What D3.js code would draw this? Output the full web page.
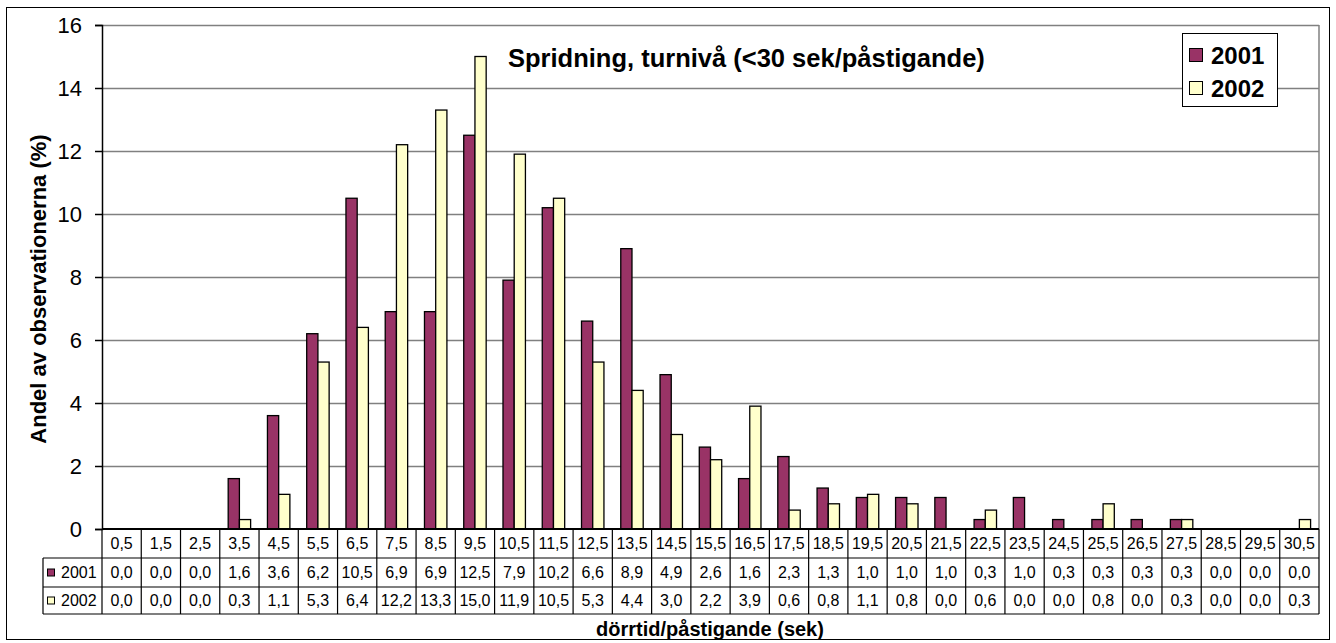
<!DOCTYPE html>
<html>
<head>
<meta charset="utf-8">
<script src="https://cdn.jsdelivr.net/npm/d3@7"></script>
<style>
  body { margin: 0; background: #fff; }
  svg { font-family: Arial, "Liberation Sans", sans-serif; }
</style>
</head>
<body>
<div id="chart"></div>
<script>
// Data
const categories = ["0,5", "1,5", "2,5", "3,5", "4,5", "5,5", "6,5", "7,5", "8,5", "9,5", "10,5", "11,5", "12,5", "13,5", "14,5", "15,5", "16,5", "17,5", "18,5", "19,5", "20,5", "21,5", "22,5", "23,5", "24,5", "25,5", "26,5", "27,5", "28,5", "29,5", "30,5"];
const values2001 = [0.0, 0.0, 0.0, 1.6, 3.6, 6.2, 10.5, 6.9, 6.9, 12.5, 7.9, 10.2, 6.6, 8.9, 4.9, 2.6, 1.6, 2.3, 1.3, 1.0, 1.0, 1.0, 0.3, 1.0, 0.3, 0.3, 0.3, 0.3, 0.0, 0.0, 0.0];
const values2002 = [0.0, 0.0, 0.0, 0.3, 1.1, 5.3, 6.4, 12.2, 13.3, 15.0, 11.9, 10.5, 5.3, 4.4, 3.0, 2.2, 3.9, 0.6, 0.8, 1.1, 0.8, 0.0, 0.6, 0.0, 0.0, 0.8, 0.0, 0.3, 0.0, 0.0, 0.3];
const seriesNames = ["2001", "2002"];
const yTicks = [0, 2, 4, 6, 8, 10, 12, 14, 16];

const colors = { "2001": "#993366", "2002": "#FFFFCC" };
const series = [values2001, values2002];

const W = 1336, H = 643;
const plot = { left: 102, top: 25, right: 1319, bottom: 529 };
const rowH = [29, 29, 27]; // header, 2001, 2002
const legendColLeft = 43;
const tableFont = 16;

const svg = d3.select("#chart").append("svg")
    .attr("width", W)
    .attr("height", H);

// Outer chart border
svg.append("rect")
    .attr("x", 6.5).attr("y", 7.5)
    .attr("width", 1323).attr("height", 632)
    .attr("fill", "#fff")
    .attr("stroke", "#000")
    .attr("stroke-width", 1);

// Scales
const x = d3.scaleBand()
    .domain(categories)
    .range([plot.left, plot.right])
    .paddingInner(0).paddingOuter(0);

const y = d3.scaleLinear()
    .domain([0, 16])
    .range([plot.bottom, plot.top]);

const barW = x.bandwidth() / 3.5;
const xs = d3.scaleBand()
    .domain(seriesNames)
    .range([(x.bandwidth() - 2 * barW) / 2, (x.bandwidth() + 2 * barW) / 2]);

// Grid lines
svg.append("g")
    .attr("class", "grid")
    .attr("transform", `translate(${plot.left},0)`)
    .call(d3.axisLeft(y).tickValues(yTicks.filter(d => d > 0)).tickSize(-(plot.right - plot.left)).tickFormat(""))
    .call(g => g.select(".domain").remove())
    .call(g => g.selectAll("line").attr("stroke", "#808080").attr("stroke-width", 1.5));

// Plot area right border
svg.append("line")
    .attr("x1", plot.right).attr("x2", plot.right)
    .attr("y1", plot.top).attr("y2", plot.bottom)
    .attr("stroke", "#808080").attr("stroke-width", 1.5);

// Y axis
svg.append("g")
    .attr("transform", `translate(${plot.left},0)`)
    .call(d3.axisLeft(y).tickValues(yTicks).tickSize(7).tickPadding(13))
    .call(g => g.select(".domain").attr("stroke", "#000").attr("stroke-width", 1.5))
    .call(g => g.selectAll(".tick line").attr("stroke", "#000").attr("stroke-width", 1.5))
    .call(g => g.selectAll("text").attr("font-size", 22).attr("font-family", "Arial, 'Liberation Sans', sans-serif").attr("fill", "#000"));

// Bars
seriesNames.forEach((name, si) => {
    svg.append("g")
        .selectAll("rect")
        .data(series[si])
        .enter()
        .append("rect")
        .attr("x", (d, i) => x(categories[i]) + xs(name))
        .attr("y", d => y(d))
        .attr("width", xs.bandwidth())
        .attr("height", d => y(0) - y(d))
        .attr("fill", colors[name])
        .attr("stroke", "#000")
        .attr("stroke-width", d => d > 0 ? 1.3 : 0);
});

// Data table
const tTop = plot.bottom;
const rowY = [tTop, tTop + rowH[0], tTop + rowH[0] + rowH[1], tTop + rowH[0] + rowH[1] + rowH[2]];
const table = svg.append("g").attr("class", "table");

// horizontal lines
table.append("line").attr("x1", plot.left).attr("x2", plot.right).attr("y1", rowY[0]).attr("y2", rowY[0]).attr("stroke", "#000").attr("stroke-width", 2);
[1, 2, 3].forEach(r => {
    table.append("line")
        .attr("x1", legendColLeft).attr("x2", plot.right)
        .attr("y1", rowY[r]).attr("y2", rowY[r])
        .attr("stroke", "#000").attr("stroke-width", 1.2);
});
// vertical lines
table.append("line").attr("x1", legendColLeft).attr("x2", legendColLeft).attr("y1", rowY[1]).attr("y2", rowY[3]).attr("stroke", "#000").attr("stroke-width", 1.2);
categories.forEach(c => {
    table.append("line")
        .attr("x1", x(c)).attr("x2", x(c))
        .attr("y1", rowY[0]).attr("y2", rowY[3])
        .attr("stroke", "#000").attr("stroke-width", 1.2);
});
table.append("line").attr("x1", plot.right).attr("x2", plot.right).attr("y1", rowY[0]).attr("y2", rowY[3]).attr("stroke", "#000").attr("stroke-width", 1.2);

// header labels
table.selectAll(".cat")
    .data(categories)
    .enter()
    .append("text")
    .attr("x", d => x(d) + x.bandwidth() / 2)
    .attr("y", rowY[0] + rowH[0] / 2 + 5)
    .attr("text-anchor", "middle")
    .attr("font-size", tableFont)
    .text(d => d);

const fmt = v => v.toFixed(1).replace(".", ",");
seriesNames.forEach((name, si) => {
    const yc = rowY[si + 1] + rowH[si + 1] / 2;
    table.append("rect")
        .attr("x", 47.5).attr("y", yc - 3.5)
        .attr("width", 7).attr("height", 7)
        .attr("fill", colors[name]).attr("stroke", "#000").attr("stroke-width", 1);
    table.append("text")
        .attr("x", 61).attr("y", yc + 5.5)
        .attr("font-size", tableFont)
        .text(name);
    table.selectAll(".v" + name)
        .data(series[si])
        .enter()
        .append("text")
        .attr("x", (d, i) => x(categories[i]) + x.bandwidth() / 2)
        .attr("y", yc + 5.5)
        .attr("text-anchor", "middle")
        .attr("font-size", tableFont)
        .text(d => fmt(d));
});

// Title
svg.append("text")
    .attr("x", 508).attr("y", 67)
    .attr("font-size", 25.5)
    .attr("font-weight", "bold")
    .text("Spridning, turnivå (<30 sek/påstigande)");

// Axis titles
svg.append("text")
    .attr("x", 710).attr("y", 636)
    .attr("text-anchor", "middle")
    .attr("font-size", 20)
    .attr("font-weight", "bold")
    .text("dörrtid/påstigande (sek)");

svg.append("text")
    .attr("transform", `translate(46,289) rotate(-90)`)
    .attr("text-anchor", "middle")
    .attr("font-size", 22)
    .attr("font-weight", "bold")
    .text("Andel av observationerna (%)");

// Legend
const legend = svg.append("g");
legend.append("rect")
    .attr("x", 1182.5).attr("y", 33.5)
    .attr("width", 95).attr("height", 73)
    .attr("fill", "#fff").attr("stroke", "#000").attr("stroke-width", 1);
seriesNames.forEach((name, i) => {
    const cy = 55 + i * 33;
    legend.append("rect")
        .attr("x", 1189.5).attr("y", cy - 6.5)
        .attr("width", 13).attr("height", 13)
        .attr("fill", colors[name]).attr("stroke", "#000").attr("stroke-width", 1);
    legend.append("text")
        .attr("x", 1211).attr("y", cy + 8.5)
        .attr("font-size", 24)
        .attr("font-weight", "bold")
        .text(name);
});
</script>
</body>
</html>
